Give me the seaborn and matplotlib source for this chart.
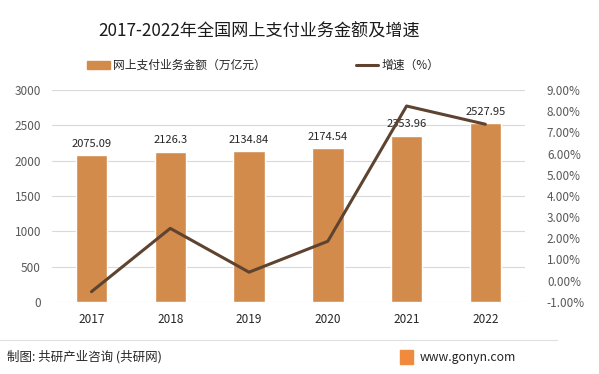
import matplotlib
matplotlib.use("Agg")
import matplotlib.pyplot as plt
import seaborn as sns
import pandas as pd
from matplotlib.patches import Rectangle
from matplotlib.lines import Line2D

years = ['2017', '2018', '2019', '2020', '2021', '2022']
amount = [2075.09, 2126.3, 2134.84, 2174.54, 2353.96, 2527.95]
growth = [-0.52, 2.47, 0.40, 1.86, 8.25, 7.39]
amount_labels = ['2075.09', '2126.3', '2134.84', '2174.54', '2353.96', '2527.95']
left_ticks = [0, 500, 1000, 1500, 2000, 2500, 3000]
right_ticks = [-1, 0, 1, 2, 3, 4, 5, 6, 7, 8, 9]

bar_color = '#D38B4C'
line_color = '#5E4330'
tick_color = '#595959'

sns.set_theme(style='white')
plt.rcParams['font.family'] = ['Noto Sans CJK SC', 'DejaVu Sans']

df = pd.DataFrame({'year': years, 'amount': amount, 'growth': growth})

fig = plt.figure(figsize=(5.99, 3.74), dpi=100)
ax = fig.add_axes([0.087, 0.193, 0.789, 0.566])

sns.barplot(data=df, x='year', y='amount', color=bar_color, width=0.4,
            saturation=1, ax=ax)
ax.set_ylim(0, 3000)
ax.set_yticks(left_ticks)
ax.grid(axis='y', color='#D9D9D9', linewidth=0.8)
ax.set_axisbelow(True)
for s in ax.spines.values():
    s.set_visible(False)
ax.set_xlabel('')
ax.set_ylabel('')
ax.tick_params(axis='both', length=0, labelsize=8.5, colors=tick_color)
ax.tick_params(axis='x', colors='#262626', pad=8)
ax.tick_params(axis='y', pad=8)
for i, v in enumerate(amount):
    ax.text(i, v + 90, amount_labels[i], ha='center', va='bottom',
            fontsize=8, color='#262626')

ax2 = ax.twinx()
sns.lineplot(x=list(range(len(years))), y=growth, color=line_color,
             linewidth=2.2, ax=ax2)
ax2.set_ylim(-1, 9)
ax2.set_yticks(right_ticks)
ax2.set_yticklabels([f'{t:.2f}%' for t in right_ticks])
ax2.tick_params(axis='y', length=0, labelsize=8.5, colors=tick_color, pad=16)
for s in ax2.spines.values():
    s.set_visible(False)
ax2.set_xlim(-0.5, 5.5)

fig.text(0.432, 0.915, '2017-2022年全国网上支付业务金额及增速', ha='center',
         va='center', fontsize=12.3, color='#1a1a1a')

# legend
handles = [Rectangle((0, 0), 1, 1, color=bar_color),
           Line2D([0], [0], color=line_color, linewidth=2.2)]
fig.legend(handles, ['网上支付业务金额（万亿元）', '增速（%）'],
           loc='center', bbox_to_anchor=(0.44, 0.825), ncol=2, frameon=False,
           fontsize=8.5, columnspacing=7.6, handlelength=1.9, handletextpad=0.3)

# footer
fig.add_artist(Line2D([0.0, 0.93], [0.09, 0.09], color='#E0E0E0', linewidth=0.8))
fig.text(0.012, 0.045, '制图: 共研产业咨询 (共研网)', ha='left', va='center',
         fontsize=9, color='#262626')
fig.add_artist(Rectangle((0.668, 0.028), 0.021, 0.035, color='#F08A3C',
                         transform=fig.transFigure))
fig.text(0.700, 0.045, 'www.gonyn.com', ha='left', va='center',
         fontsize=8.8, color='#262626')

fig.savefig('out.png', dpi=100, facecolor='white')
